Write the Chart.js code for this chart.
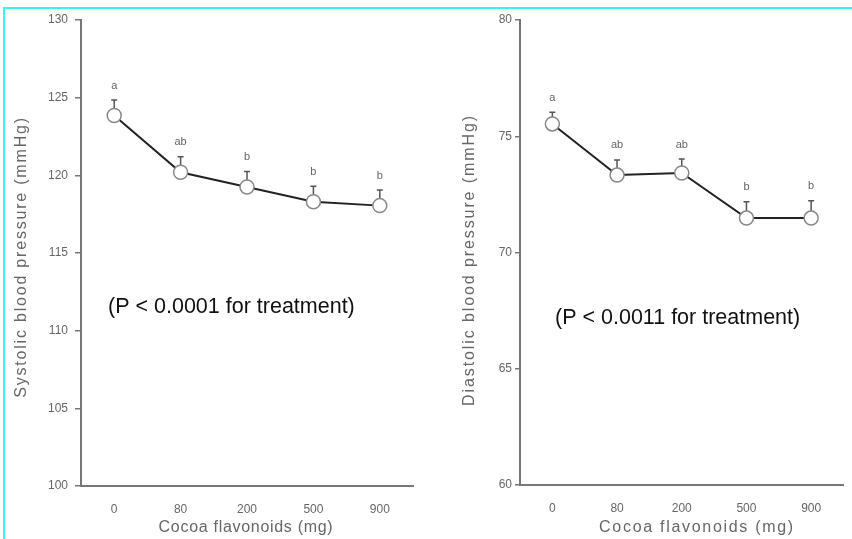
<!DOCTYPE html>
<html>
<head>
<meta charset="utf-8">
<script src="https://cdn.jsdelivr.net/npm/chart.js@4"></script>
<style>
  html, body { margin: 0; padding: 0; background: #fff; }
  body { width: 852px; height: 539px; position: relative; overflow: hidden; }
  .painel { position: absolute; top: 0; height: 539px; }
  #p1 { left: 0; width: 430px; }
  #p2 { left: 430px; width: 422px; }
  .ciano-topo { position: absolute; left: 3px; top: 7px; width: 849px; height: 2px; background: #3ff2f2; }
  .ciano-esq { position: absolute; left: 3px; top: 7px; width: 2px; height: 532px; background: #3ff2f2; }
</style>
</head>
<body>
<div class="painel" id="p1"><canvas id="grafico1" width="430" height="539"></canvas></div>
<div class="painel" id="p2"><canvas id="grafico2" width="422" height="539"></canvas></div>
<div class="ciano-topo"></div>
<div class="ciano-esq"></div>
<script>
// dados
const doses = ['0', '80', '200', '500', '900'];
const sistolica = [123.85, 120.2, 119.25, 118.3, 118.05];
const erroSistolica = [1.0, 1.0, 1.0, 1.0, 1.0];
const letrasSistolica = ['a', 'ab', 'b', 'b', 'b'];
const diastolica = [75.53, 73.33, 73.42, 71.48, 71.48];
const erroDiastolica = [0.5, 0.65, 0.6, 0.7, 0.75];
const letrasDiastolica = ['a', 'ab', 'ab', 'b', 'b'];

const fonte = 'Liberation Sans, Arial, sans-serif';
const cinza = '#777';

// barras de erro (so para cima), letras e textos
const barrasErro = {
    id: 'barrasErro',
    beforeDatasetsDraw(chart, args, opts) {
        const ctx = chart.ctx;
        const ys = chart.scales.y;
        const meta = chart.getDatasetMeta(0);
        ctx.save();
        ctx.strokeStyle = '#555';
        ctx.lineWidth = 1.5;
        meta.data.forEach((pt, i) => {
            const v = chart.data.datasets[0].data[i];
            const topo = ys.getPixelForValue(v + opts.erros[i]);
            ctx.beginPath();
            ctx.moveTo(pt.x, pt.y);
            ctx.lineTo(pt.x, topo);
            ctx.moveTo(pt.x - 3, topo);
            ctx.lineTo(pt.x + 3, topo);
            ctx.stroke();
        });
        ctx.restore();
    },
    afterDatasetsDraw(chart, args, opts) {
        const ctx = chart.ctx;
        const ys = chart.scales.y;
        const meta = chart.getDatasetMeta(0);
        const area = chart.chartArea;
        ctx.save();
        ctx.fillStyle = '#666';
        ctx.font = '11px ' + fonte;
        ctx.textAlign = 'center';
        ctx.textBaseline = 'bottom';
        meta.data.forEach((pt, i) => {
            const v = chart.data.datasets[0].data[i];
            const topo = ys.getPixelForValue(v + opts.erros[i]);
            ctx.fillText(opts.letras[i], pt.x, topo - 9);
        });

        // titulos dos eixos (espacados como no original)
        ctx.textBaseline = 'middle';
        ctx.font = '16px ' + fonte;
        ctx.letterSpacing = opts.espacoX + 'px';
        ctx.fillText('Cocoa flavonoids (mg)', opts.tituloX[0], opts.tituloX[1]);
        ctx.letterSpacing = opts.espacoY + 'px';
        ctx.save();
        ctx.translate(opts.tituloY[0], opts.tituloY[1]);
        ctx.rotate(-Math.PI / 2);
        ctx.fillText(opts.textoY, 0, 0);
        ctx.restore();
        ctx.letterSpacing = '0px';

        // texto do P
        ctx.fillStyle = '#111';
        ctx.font = '21.5px ' + fonte;
        ctx.textAlign = 'left';
        ctx.fillText(opts.texto, area.left + opts.dx, area.top + opts.dy);
        ctx.restore();
    }
};

function montarPainel(id, valores, erros, letras, cfg) {
    const ctx = document.getElementById(id).getContext('2d');
    return new Chart(ctx, {
        type: 'line',
        data: {
            labels: doses,
            datasets: [{
                data: valores,
                borderColor: '#222',
                borderWidth: 2,
                pointRadius: 7,
                pointBackgroundColor: '#fff',
                pointBorderColor: '#888',
                pointBorderWidth: 1.5,
                tension: 0
            }]
        },
        options: {
            responsive: false,
            animation: false,
            layout: {padding: {top: 20, right: cfg.padDireita, bottom: 0, left: 0}},
            plugins: {
                legend: {display: false},
                tooltip: {enabled: false},
                barrasErro: {
                    erros: erros, letras: letras, texto: cfg.texto, dx: cfg.dx, dy: cfg.dy,
                    textoY: cfg.titulo, tituloY: cfg.tituloY, tituloX: cfg.tituloX,
                    espacoX: cfg.espacoX, espacoY: cfg.espacoY
                }
            },
            scales: {
                x: {
                    offset: true,
                    grid: {display: false},
                    border: {display: true, color: cinza, width: 2},
                    ticks: {color: '#666', font: {family: fonte, size: 12}, padding: 8},
                    afterFit: s => { s.height = cfg.fundo; }
                },
                y: {
                    min: cfg.min,
                    max: cfg.max,
                    ticks: {stepSize: 5, color: '#666', font: {family: fonte, size: 12}, padding: cfg.padTick},
                    grid: {drawOnChartArea: false, tickLength: cfg.tick, color: cinza, lineWidth: 1.5},
                    border: {display: true, color: cinza, width: 2},
                    afterFit: s => { s.width = cfg.larguraY; }
                }
            }
        },
        plugins: [barrasErro]
    });
}

montarPainel('grafico1', sistolica, erroSistolica, letrasSistolica, {
    titulo: 'Systolic blood pressure (mmHg)', min: 100, max: 130, larguraY: 81, padDireita: 17,
    padTick: 7, tick: 6, fundo: 53,
    texto: '(P < 0.0001 for treatment)', dx: 27, dy: 287,
    tituloY: [22, 257], tituloX: [246, 528], espacoX: 0.7, espacoY: 1.8
});
montarPainel('grafico2', diastolica, erroDiastolica, letrasDiastolica, {
    titulo: 'Diastolic blood pressure (mmHg)', min: 60, max: 80, larguraY: 90, padDireita: 4,
    padTick: 3, tick: 5, fundo: 54,
    texto: '(P < 0.0011 for treatment)', dx: 35, dy: 298,
    tituloY: [40, 260], tituloX: [267, 528], espacoX: 1.7, espacoY: 1.9
});
</script>
</body>
</html>
